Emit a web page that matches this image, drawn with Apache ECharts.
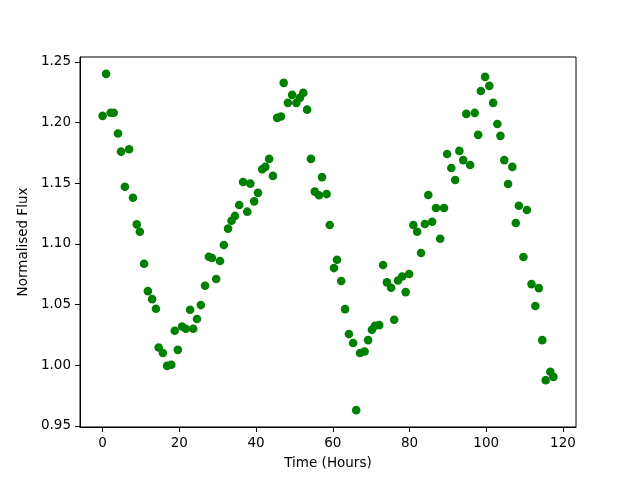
<!DOCTYPE html>
<html>
<head>
    <meta charset="utf-8">
    <title>Normalised Flux</title>
    <script src="https://cdn.jsdelivr.net/npm/echarts@6/dist/echarts.min.js"></script>
</head>
<body style="margin:0;background:#fff;">
    <div id="main" style="width: 640px;height:480px;"></div>
    <script type="text/javascript">
        // time (hours) and flux
        var hours = [0.0, 0.9, 2.1, 2.9, 4.0, 4.8, 5.8, 6.9, 7.9, 8.9, 9.7, 10.8, 11.8, 12.9, 13.9,
            14.6, 15.7, 16.8, 17.9, 18.8, 19.6, 20.7, 21.7, 22.8, 23.6, 24.6, 25.6, 26.7, 27.7, 28.5,
            29.6, 30.6, 31.6, 32.7, 33.6, 34.5, 35.6, 36.6, 37.7, 38.5, 39.5, 40.5, 41.6, 42.4, 43.4,
            44.4, 45.5, 46.5, 47.2, 48.3, 49.4, 50.5, 51.4, 52.3, 53.3, 54.3, 55.3, 56.4, 57.2, 58.4,
            59.2, 60.3, 61.1, 62.2, 63.2, 64.2, 65.3, 66.1, 67.1, 68.3, 69.2, 70.2, 71.0, 72.1, 73.1,
            74.1, 75.2, 76.0, 77.0, 78.1, 79.0, 79.9, 81.0, 82.0, 83.0, 84.0, 84.9, 85.9, 86.9, 88.0,
            89.0, 89.8, 90.9, 91.9, 93.0, 94.0, 94.8, 95.8, 97.0, 97.9, 98.6, 99.7, 100.8, 101.8, 102.9,
            103.7, 104.7, 105.7, 106.8, 107.7, 108.5, 109.7, 110.6, 111.8, 112.8, 113.7, 114.6, 115.5,
            116.7, 117.5];
        var flux = [1.2055, 1.2401, 1.208, 1.208, 1.191, 1.176, 1.147, 1.178, 1.138, 1.116, 1.110, 1.0836, 1.061, 1.0544, 1.0465,
            1.0145, 1.010, 0.9994, 1.0003, 1.0283, 1.0126, 1.0318, 1.030, 1.0456, 1.030, 1.038, 1.0495, 1.0654, 1.0894, 1.0883,
            1.071, 1.0858, 1.099, 1.1125, 1.119, 1.123, 1.132, 1.151, 1.1265, 1.1496, 1.135, 1.142, 1.1614, 1.1634, 1.170,
            1.156, 1.2038, 1.2049, 1.2327, 1.2162, 1.2228, 1.2162, 1.2203, 1.2244, 1.2106, 1.170, 1.143, 1.140, 1.155, 1.141,
            1.1155, 1.080, 1.0869, 1.0693, 1.0462, 1.0256, 1.0182, 0.9629, 1.010, 1.0112, 1.0206, 1.0291, 1.0324, 1.033, 1.0825,
            1.0682, 1.0638, 1.0374, 1.0698, 1.0731, 1.0602, 1.0751, 1.1155, 1.110, 1.0924, 1.1163, 1.1403, 1.1182, 1.1295, 1.1042,
            1.1295, 1.174, 1.1625, 1.1526, 1.1766, 1.169, 1.2071, 1.165, 1.2079, 1.1898, 1.226, 1.2376, 1.2302, 1.2162, 1.1988,
            1.189, 1.169, 1.1493, 1.1634, 1.1172, 1.1314, 1.0891, 1.1279, 1.0668, 1.0487, 1.0635, 1.0206, 0.9876,
            0.9945, 0.9903];
        var xTicks = [0, 20, 40, 60, 80, 100, 120];
        var yTicks = [0.95, 1.00, 1.05, 1.10, 1.15, 1.20, 1.25];

        var points = hours.map(function (h, i) { return [h, flux[i]]; });
        var font = 'DejaVu Sans';

        var myChart = echarts.init(document.getElementById('main'));
        var option = {
            animation: false,
            backgroundColor: '#fff',
            grid: {
                left: 80, right: 64, top: 57, bottom: 53,
                show: true, borderColor: '#000', borderWidth: 1
            },
            xAxis: {
                type: 'value',
                min: -5.9, max: 123.4,
                name: 'Time (Hours)',
                nameLocation: 'middle',
                nameGap: 29,
                nameTextStyle: { fontFamily: font, fontSize: 13.5, color: '#000' },
                axisLine: { show: true, onZero: false, lineStyle: { color: '#000' } },
                axisTick: { show: true, length: 5, customValues: xTicks, lineStyle: { color: '#000' } },
                axisLabel: { customValues: xTicks, margin: 9, fontFamily: font, fontSize: 13.5, color: '#000' },
                splitLine: { show: false }
            },
            yAxis: {
                type: 'value',
                min: 0.949, max: 1.254,
                name: 'Normalised Flux',
                nameLocation: 'middle',
                nameGap: 41,
                nameTextStyle: { fontFamily: font, fontSize: 13.5, color: '#000' },
                axisLine: { show: true, onZero: false, lineStyle: { color: '#000' } },
                axisTick: { show: true, length: 5, customValues: yTicks, lineStyle: { color: '#000' } },
                axisLabel: {
                    customValues: yTicks, margin: 9, fontFamily: font, fontSize: 13.5, color: '#000',
                    formatter: function (v) { return v.toFixed(2); }
                },
                splitLine: { show: false }
            },
            series: [{
                type: 'scatter',
                data: points,
                symbolSize: 8.6,
                itemStyle: { color: '#008000', opacity: 1 }
            }]
        };
        myChart.setOption(option);
    </script>
</body>
</html>
